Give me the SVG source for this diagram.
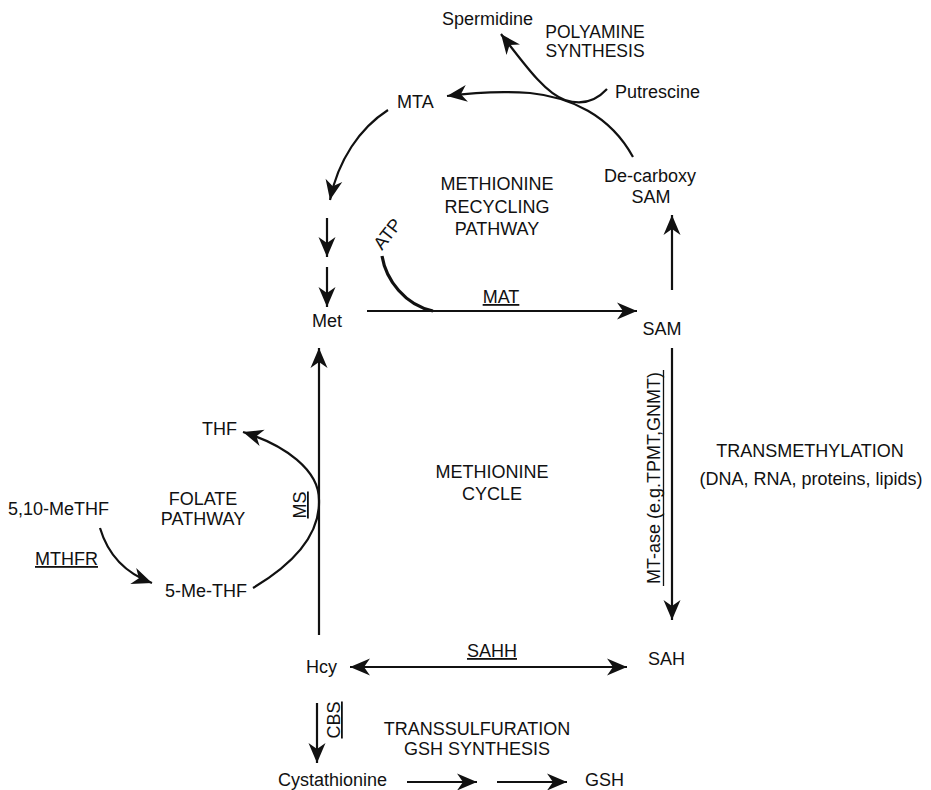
<svg xmlns="http://www.w3.org/2000/svg" width="931" height="790" viewBox="0 0 931 790">
<defs>
<style>
text{font-family:"Liberation Sans",Arial,sans-serif;font-size:18px;fill:#111}
.c{text-anchor:middle}
.u{text-decoration:underline;text-decoration-skip-ink:none}
.ln{fill:none;stroke:#111;stroke-width:2.2}
.arr{marker-end:url(#ah)}
</style>
<marker id="ah" viewBox="-21 -10 22 20" markerWidth="22" markerHeight="20" refX="0" refY="0" orient="auto-start-reverse" markerUnits="userSpaceOnUse">
<path d="M0,0 L-20,-8.5 L-14,0 L-20,8.5 z" fill="#111"/>
</marker>
</defs>
<rect width="931" height="790" fill="#fff"/>

<g id="connectors">
<path class="ln arr" d="M633,157 C610,115 570,97 530,93 C500,91 470,93 447,96"/>
<path class="ln arr" d="M607,89 C595,102 580,105 565,100 C545,93 525,65 501,34"/>
<path class="ln arr" d="M388,110 C360,128 338,160 330,200"/>
<path class="ln arr" d="M327,218 L327,257"/>
<path class="ln arr" d="M327,267 L327,307"/>
<path class="ln" style="stroke-width:3.2" d="M382,256 C386,280 405,305 433,311"/>
<path class="ln arr" d="M367,311 L637,311"/>
<path class="ln arr" d="M672,290 L672,215"/>
<path class="ln arr" d="M672,348 L672,620"/>
<path class="ln arr" style="marker-start:url(#ah)" d="M350,667 L627,667"/>
<path class="ln arr" d="M319,635 L319,348"/>
<path class="ln arr" d="M253,588 C300,560 320,530 319,500 C319,470 285,445 243,432"/>
<path class="ln arr" d="M100,528 C108,555 125,573 152,583"/>
<path class="ln arr" d="M317,703 L317,763"/>
<path class="ln arr" d="M407,782 L477,782"/>
<path class="ln arr" d="M497,782 L567,782"/>
</g>

<g id="spermidine"><text x="442" y="25">Spermidine</text></g>
<g id="polyamine-label"><text class="c" x="595" y="38" style="font-size:17.5px">POLYAMINE</text><text class="c" x="595" y="57" style="font-size:17.5px">SYNTHESIS</text></g>
<g id="mta"><text x="397" y="108">MTA</text></g>
<g id="putrescine"><text x="615" y="98">Putrescine</text></g>
<g id="recycling-label"><text class="c" x="497" y="190">METHIONINE</text><text class="c" x="497" y="213">RECYCLING</text><text class="c" x="497" y="235">PATHWAY</text></g>
<g id="decarboxy-sam"><text class="c" x="650" y="182">De-carboxy</text><text class="c" x="651" y="203">SAM</text></g>
<g id="atp"><text transform="translate(382,251) rotate(-52)">ATP</text></g>
<g id="mat"><text class="c u" x="501" y="303">MAT</text></g>
<g id="met"><text class="c" x="327" y="327">Met</text></g>
<g id="sam"><text class="c" x="662" y="335">SAM</text></g>
<g id="thf"><text x="202" y="435">THF</text></g>
<g id="folate-label"><text class="c" x="203" y="505">FOLATE</text><text class="c" x="203" y="525">PATHWAY</text></g>
<g id="methf"><text x="8" y="515">5,10-MeTHF</text></g>
<g id="mthfr"><text class="u" x="35" y="565">MTHFR</text></g>
<g id="me-thf"><text x="165" y="597">5-Me-THF</text></g>
<g id="ms"><text class="c u" transform="translate(306,505) rotate(-90)">MS</text></g>
<g id="cycle-label"><text class="c" x="492" y="478">METHIONINE</text><text class="c" x="492" y="500">CYCLE</text></g>
<g id="mtase"><text class="c" transform="translate(660,478) rotate(-90)">MT-ase (e.g.TPMT,GNMT)</text><line x1="663.5" y1="370" x2="663.5" y2="586" stroke="#111" stroke-width="1.3"/></g>
<g id="transmethylation-label"><text class="c" x="810" y="457">TRANSMETHYLATION</text><text class="c" x="811" y="485">(DNA, RNA, proteins, lipids)</text></g>
<g id="sahh"><text class="c u" x="492" y="657">SAHH</text></g>
<g id="sah"><text x="648" y="665">SAH</text></g>
<g id="hcy"><text x="306" y="673">Hcy</text></g>
<g id="cbs"><text class="c u" transform="translate(340,720) rotate(-90)">CBS</text></g>
<g id="transsulfuration-label"><text class="c" x="477" y="735">TRANSSULFURATION</text><text class="c" x="477" y="755">GSH SYNTHESIS</text></g>
<g id="cystathionine"><text x="278" y="786">Cystathionine</text></g>
<g id="gsh"><text x="585" y="786">GSH</text></g>
</svg>
